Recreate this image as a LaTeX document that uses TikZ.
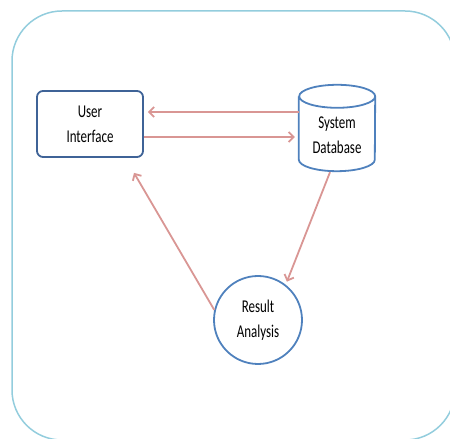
\documentclass[tikz,border=0pt]{standalone}
\usepackage{fontspec}
\setmainfont{Carlito}
\usetikzlibrary{arrows.meta,calc}
\definecolor{framec}{HTML}{93CDDD}
\definecolor{uiblue}{HTML}{3F6397}
\definecolor{nodeblue}{HTML}{4F81BD}
\definecolor{arrowc}{HTML}{D99694}
\newcommand{\tx}[1]{\scalebox{0.72}[1]{#1}}
\tikzset{
  x=1pt,y=1pt,
  txt/.style={font=\fontsize{18}{25}\selectfont, align=center, text=black},
  uibox/.style={txt, draw=uiblue, line width=1.8pt, rounded corners=6pt, minimum width=106pt, minimum height=66pt, inner sep=0pt},
  dbbox/.style={minimum width=76pt, minimum height=86pt, inner sep=0pt},
  rabox/.style={txt, circle, draw=nodeblue, line width=1.8pt, minimum size=88pt, inner sep=0pt},
  conn/.style={draw=arrowc, line width=1.8pt, -{Straight Barb[length=5pt,width=10pt]}},
}
\begin{document}
\begin{tikzpicture}
\useasboundingbox (0,0) rectangle (450,439);
\clip (0,0) rectangle (450,439);
\draw[framec, line width=1.5pt, rounded corners=50pt] (12,-1) rectangle (455,428);
% nodes
\node[uibox] (ui) at (90,315) {\tx{User}\\\tx{Interface}};
\node[dbbox] (db) at (337,311) {};
\draw[nodeblue, line width=1.8pt]
  ($(db.north west)+(0,-11.5)$) -- ($(db.south west)+(0,11.5)$)
  arc[start angle=180, end angle=360, x radius=38, y radius=11.5]
  -- ($(db.north east)+(0,-11.5)$)
  arc[start angle=0, end angle=360, x radius=38, y radius=11.5];
\node[txt] (dbt) at ([yshift=-7.5]db.center) {\tx{System}\\\tx{Database}};
\node[rabox] (ra) at (258,119) {\tx{Result}\\\tx{Analysis}};
% connectors
\draw[conn] ([yshift=16]db.west) -- ([xshift=4,yshift=12]ui.east);
\draw[conn] ([yshift=-13]ui.east) -- ([xshift=-4,yshift=-9]db.west);
\draw[conn] ([xshift=-7,yshift=-1]db.south) -- ($(ra.center)+(53:48)$);
\draw[conn] (ra.167) -- ([xshift=44,yshift=-15]ui.south);
\end{tikzpicture}
\end{document}
